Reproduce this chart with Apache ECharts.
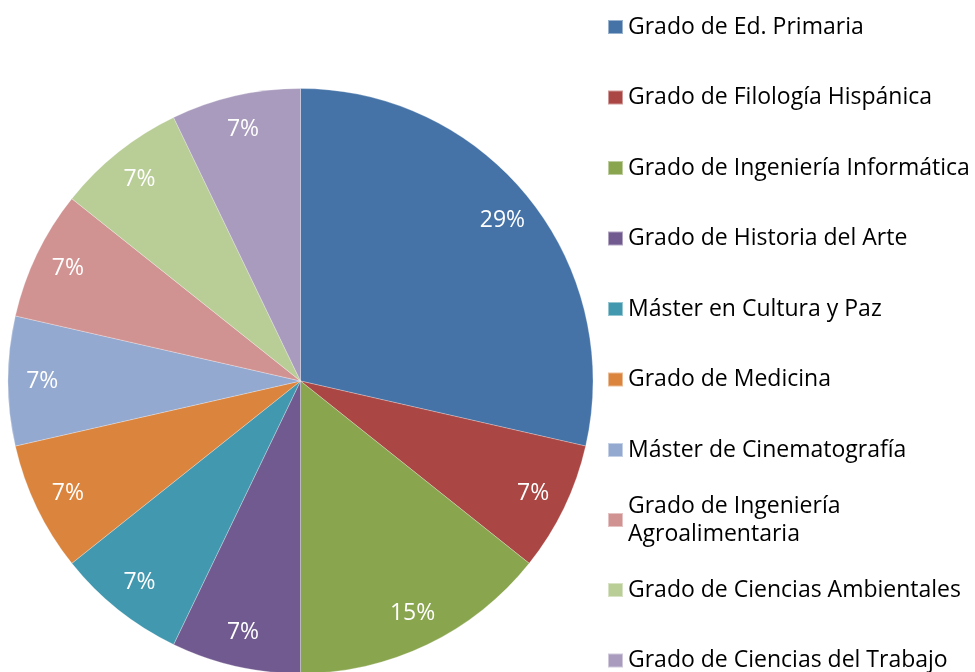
<!DOCTYPE html>
<html>
<head>
<meta charset="utf-8">
<script src="https://cdn.jsdelivr.net/npm/echarts@6/dist/echarts.min.js"></script>
<style>
  html, body { margin: 0; padding: 0; background: #fff; }
  #main { width: 975px; height: 672px; }
</style>
</head>
<body>
<div id="main"></div>
<script>
// categories and values (counts, percentages computed by echarts)
const categories = [
  "Grado de Ed. Primaria",
  "Grado de Filología Hispánica",
  "Grado de Ingeniería Informática",
  "Grado de Historia del Arte",
  "Máster en Cultura y Paz",
  "Grado de Medicina",
  "Máster de Cinematografía",
  "Grado de Ingeniería Agroalimentaria",
  "Grado de Ciencias Ambientales",
  "Grado de Ciencias del Trabajo"
];
const values = [4, 1, 2, 1, 1, 1, 1, 1, 1, 1];
const colors = [
  "#4573A7", "#AA4643", "#89A54E", "#715A8F", "#4298AF",
  "#DB843D", "#94A9CF", "#D19392", "#B9CD97", "#A99BBD"
];

const chart = echarts.init(document.getElementById("main"));

const pieData = categories.map(function (name, i) {
  return { name: name, value: values[i], itemStyle: { color: colors[i] } };
});

const legendText = {
  fontFamily: "Open Sans",
  fontSize: 23,
  color: "#000",
  lineHeight: 28
};

chart.setOption({
  animation: false,
  legend: [
    {
      orient: "vertical",
      left: 607,
      top: 13,
      height: 520,
      padding: 0,
      itemWidth: 15,
      itemHeight: 14,
      itemGap: 42.5,
      icon: "rect",
      textStyle: legendText,
      data: categories.slice(0, 7)
    },
    {
      orient: "vertical",
      left: 607,
      top: 478,
      height: 120,
      padding: 0,
      itemWidth: 15,
      itemHeight: 14,
      icon: "rect",
      formatter: function (name) {
        return name.replace("Ingeniería ", "Ingeniería\n");
      },
      textStyle: Object.assign({}, legendText, { padding: [28, 0, 0, 0] }),
      data: categories.slice(7, 8)
    },
    {
      orient: "vertical",
      left: 607,
      top: 576,
      height: 150,
      padding: 0,
      itemWidth: 15,
      itemHeight: 14,
      itemGap: 42.5,
      icon: "rect",
      textStyle: legendText,
      data: categories.slice(8)
    }
  ],
  series: [
    {
      name: "main",
      type: "pie",
      center: [300.5, 381],
      radius: [0, 292.5],
      startAngle: 90,
      clockwise: true,
      percentPrecision: 0,
      label: { show: false },
      labelLine: { show: false },
      itemStyle: { borderColor: "rgba(255,255,255,0.45)", borderWidth: 0.6 },
      emphasis: { disabled: true },
      data: pieData
    },
    {
      // invisible ring only used to place the percent labels near the rim
      name: "labels",
      type: "pie",
      center: [300.5, 381],
      radius: [218, 292.5],
      startAngle: 90,
      clockwise: true,
      percentPrecision: 0,
      silent: true,
      itemStyle: { color: "rgba(0,0,0,0)" },
      label: {
        show: true,
        position: "inside",
        formatter: "{d}%",
        fontFamily: "Open Sans",
        fontSize: 23,
        color: "#fff"
      },
      labelLine: { show: false },
      emphasis: { disabled: true },
      data: categories.map(function (name, i) {
        return { name: name, value: values[i] };
      })
    }
  ]
});
</script>
</body>
</html>
